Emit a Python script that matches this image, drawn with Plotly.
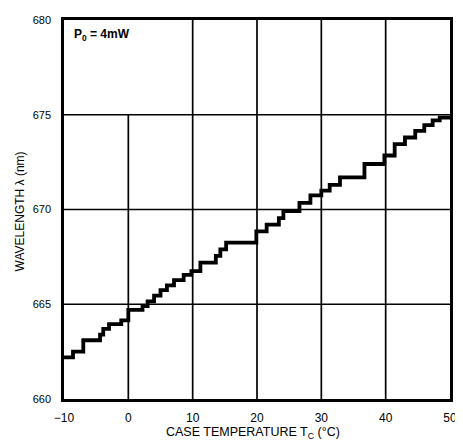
import plotly.graph_objects as go

# Step (mode-hop) curve: start temperature of each flat segment and its wavelength
temp_c = [-10.0, -8.6, -7.0, -4.4, -3.9, -3.0, -1.1, 0.0, 2.2, 3.0, 4.0, 5.0, 6.0,
          7.1, 8.6, 9.8, 11.2, 13.6, 14.3, 15.2, 19.9, 21.5, 23.4, 24.1, 26.6,
          28.3, 30.0, 31.3, 32.9, 36.7, 39.8, 41.4, 43.0, 44.6, 46.0, 47.3, 48.4, 50.0]
wavelength_nm = [662.2, 662.5, 663.1, 663.4, 663.7, 663.95, 664.15, 664.7, 664.9, 665.15,
                 665.45, 665.75, 666.0, 666.27, 666.55, 666.75, 667.2, 667.55, 667.9,
                 668.25, 668.85, 669.2, 669.55, 669.92, 670.35, 670.75, 671.0, 671.3,
                 671.7, 672.4, 672.85, 673.45, 673.8, 674.15, 674.45, 674.7, 674.85, 674.85]

x_ticks = [-10, 0, 10, 20, 30, 40, 50]
x_tick_text = ["\u221210", "0", "10", "20", "30", "40", "50"]
y_ticks = [660, 665, 670, 675, 680]
y_tick_text = ["660", "665", "670", "675", "680"]

x_grid = [0, 10, 20, 30, 40]
y_grid = [665, 670, 675]

FONT = "Liberation Sans, Arial, sans-serif"

fig = go.Figure()
fig.add_trace(go.Scatter(
    x=temp_c, y=wavelength_nm, mode="lines", line_shape="hv",
    line=dict(color="black", width=3.8), showlegend=False, hoverinfo="skip",
))

shapes = []
for xv in x_grid:
    y_top = 675 if xv == 0 else 680  # vertical at 0 stops below the label box
    shapes.append(dict(type="line", xref="x", yref="y", x0=xv, x1=xv, y0=660, y1=y_top,
                       line=dict(color="black", width=1.7), layer="below"))
for yv in y_grid:
    shapes.append(dict(type="line", xref="x", yref="y", x0=-10, x1=50, y0=yv, y1=yv,
                       line=dict(color="black", width=1.7), layer="below"))

fig.update_layout(
    width=455, height=435,
    margin=dict(l=56, r=10, t=6, b=44),
    paper_bgcolor="white", plot_bgcolor="white",
    font=dict(family=FONT, color="black", size=11),
    shapes=shapes,
    annotations=[
        dict(text="P<sub>0</sub> = 4mW", x=-8.7, y=679.2, xref="x", yref="y",
             xanchor="left", yanchor="middle", showarrow=False,
             font=dict(family=FONT, size=12, color="black", weight="bold")),
        dict(text="CASE TEMPERATURE T<sub>C</sub> (°C)", x=0.49, y=0, xref="paper", yref="paper",
             xanchor="center", yanchor="middle", yshift=-34, showarrow=False,
             font=dict(family=FONT, size=12.5, color="black")),
        dict(text="WAVELENGTH \u03bb (nm)", x=0, y=0.495, xref="paper", yref="paper",
             xanchor="center", yanchor="middle", xshift=-44, textangle=-90, showarrow=False,
             font=dict(family=FONT, size=12, color="black")),
    ],
)
fig.update_xaxes(range=[-10, 50], tickvals=x_ticks, ticktext=x_tick_text,
                 showgrid=False, zeroline=False, showline=True, mirror=True,
                 linecolor="black", linewidth=2.5, ticks="", ticklabelstandoff=6,
                 tickfont=dict(size=12), fixedrange=True)
fig.update_yaxes(range=[660, 680], tickvals=y_ticks, ticktext=y_tick_text,
                 showgrid=False, zeroline=False, showline=True, mirror=True,
                 linecolor="black", linewidth=2.5, ticks="", ticklabelstandoff=8,
                 tickfont=dict(size=11), fixedrange=True)

fig.write_html("out.html")
